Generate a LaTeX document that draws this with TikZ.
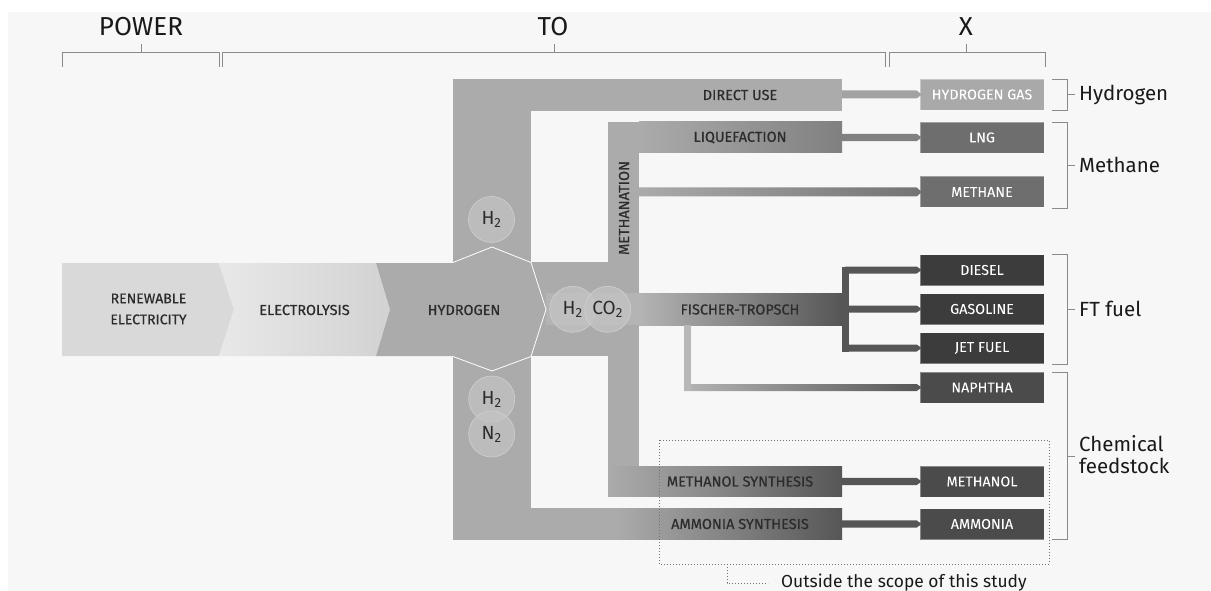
\documentclass[tikz,border=0pt]{standalone}
\usepackage{fontspec}
\setmainfont{Fira Sans}
\newfontfamily\medfont{Fira Sans}[FakeBold=0.5]
\usetikzlibrary{calc}
\definecolor{panel}{HTML}{F7F7F7}
\definecolor{hyd}{HTML}{ABABAB}
\definecolor{hydl}{HTML}{B4B4B4}
\definecolor{ren}{HTML}{D9D9D9}
\definecolor{ell}{HTML}{E8E8E8}
\definecolor{elr}{HTML}{D2D2D2}
\definecolor{midg}{HTML}{808080}
\definecolor{dkg}{HTML}{565656}
\definecolor{bxhg}{HTML}{A9A9A9}
\definecolor{bxme}{HTML}{6E6E6E}
\definecolor{bxft}{HTML}{3C3C3C}
\definecolor{bxch}{HTML}{4B4B4B}
\definecolor{txt}{HTML}{2C2C2C}
\definecolor{brk}{HTML}{8A8A8A}
\definecolor{circf}{HTML}{C4C4C4}
\definecolor{circd}{HTML}{D0D0D0}
\pgfdeclarehorizontalshading{ammsh}{100bp}{color(0bp)=(hyd); color(46bp)=(hyd); color(61bp)=(hyd!50!dkg); color(75bp)=(dkg); color(100bp)=(dkg)}
\pgfdeclarehorizontalshading{meohsh}{100bp}{color(0bp)=(hyd); color(25bp)=(hyd); color(50bp)=(hyd!55!dkg); color(75bp)=(dkg); color(100bp)=(dkg)}
\newcommand{\feed}[4]{%
  \fill[#4] ($(#1 |- #2.west)+(0,-#3)$) -- ($(#2.west)+(-3,-#3)$) -- ($(#2.west)+(2,0)$) -- ($(#2.west)+(-3,#3)$) -- ($(#1 |- #2.west)+(0,#3)$) -- cycle;}
\begin{document}
\begin{tikzpicture}[x=1pt,y=-1pt,
  proc/.style={inner sep=0pt, text=txt, font=\medfont\fontsize{14.5}{16}\selectfont},
  outbox/.style={minimum width=124pt, minimum height=31pt, inner sep=0pt, text=white,
     font=\medfont\fontsize{14.3}{16}\selectfont, draw=white, draw opacity=0.35, line width=0.6pt},
  toplabel/.style={inner sep=0pt, text=black!90, font=\fontsize{26}{30}\selectfont},
  sidelabel/.style={inner sep=0pt, anchor=west, text=black!90, font=\fontsize{20.5}{22}\selectfont, align=left},
  brace/.style={draw=brk, line width=0.9pt},
  circ/.style={circle, minimum size=46pt, inner sep=0pt, fill=circf, fill opacity=0.7, text opacity=1,
     draw=circd, line width=0.6pt, text=txt, font=\fontsize{19}{21}\selectfont},
  scope box/.style={draw=black!55, dotted, line width=1pt}]
\useasboundingbox (0,0) rectangle (1211,591);
\fill[white] (0,0) rectangle (1211,591);
\fill[panel] (8,12) rectangle (1211,591);

% ---- top brackets
\node[toplabel] (lpow) at (141,27) {POWER};
\node[toplabel] (lto) at (553,27) {TO};
\node[toplabel] (lx) at (966,27) {X};
\draw[brace] (62,67) -- (62,52) -- (219,52) -- (219,67);
\draw[brace] (141,52) -- (141,44);
\draw[brace] (222,67) -- (222,52) -- (885,52) -- (885,67);
\draw[brace] (554,52) -- (554,44);
\draw[brace] (889,67) -- (889,52) -- (1045,52) -- (1045,67);
\draw[brace] (966,52) -- (966,44);

% ---- left band
\fill[ren] (62,263) -- (219,263) -- (234,309.5) -- (219,356) -- (62,356) -- cycle;
\shade[left color=ell, right color=elr] (219,263) -- (376,263) -- (390,309.5) -- (376,356) -- (219,356) -- (234,309.5) -- cycle;

% ---- hydrogen network
\fill[hyd] (376,263) -- (453,263) -- (453,356) -- (376,356) -- (390,309.5) -- cycle;
\fill[hyd] (453,79) rectangle (531,508.5);
\fill[hyd] (453,79) rectangle (842,111);
\fill[hyd] (531,262) rectangle (608,356);
\fill[hyd] (608,122) rectangle (639,466.5);
\shade[left color=hyd, right color=midg] (639,122) rectangle (842,153);
\fill[hyd] (608,122) rectangle (640,153);
\fill[hydl] (546,293) rectangle (639,325);
\shade[left color=hydl, right color=dkg] (639,293) rectangle (842,325);
\shade[shading=meohsh] (608,466) rectangle (842,496);
\shade[shading=ammsh] (453,508) rectangle (842,539);

% hub outline
\draw[white, line width=0.8pt] (453,262.5) -- (492,247) -- (531,262.5) -- (546,309.5) -- (531,356.5) -- (492,371) -- (453,356.5);

% bar end coordinates
\coordinate (duE) at (842,95);
\coordinate (liqE) at (842,137.5);
\coordinate (methC) at (639,192);
\coordinate (ftE) at (845,309);
\coordinate (napC) at (684,387.5);
\coordinate (meohE) at (842,481.5);
\coordinate (ammE) at (842,524);

% ---- output boxes
\node[outbox, fill=bxhg] (hg) at (982,94.5) {HYDROGEN GAS};
\node[outbox, fill=bxme] (lng) at (982,137.5) {LNG};
\node[outbox, fill=bxme] (met) at (982,192) {METHANE};
\node[outbox, fill=bxft] (die) at (982,270) {DIESEL};
\node[outbox, fill=bxft] (gas) at (982,309) {GASOLINE};
\node[outbox, fill=bxft] (jet) at (982,348) {JET FUEL};
\node[outbox, fill=bxch] (nap) at (982,387.5) {NAPHTHA};
\node[outbox, fill=bxch] (meoh) at (982,481.5) {METHANOL};
\node[outbox, fill=bxch] (amm) at (982,524) {AMMONIA};

% ---- connectors
\feed{duE}{hg}{4}{hyd!95!black}
\feed{liqE}{lng}{3.6}{midg}
\shade[left color=hyd, right color=midg!90!black] ($(methC |- met.west)+(0,-4.5)$) -- ($(met.west)+(-3,-4.5)$) -- ($(met.west)+(2,0)$) -- ($(met.west)+(-3,4.5)$) -- ($(methC |- met.west)+(0,4.5)$) -- cycle;
\fill[dkg] (842,266.5) rectangle (849,351.5);
\feed{ftE}{die}{3.5}{dkg}
\feed{ftE}{gas}{3.5}{dkg}
\feed{ftE}{jet}{3.5}{dkg}
\fill[hydl!95!white] (684,325) rectangle (691,391);
\shade[left color=hydl, middle color=hydl!80!dkg, right color=dkg] ($(napC |- nap.west)+(0,-3.5)$) -- ($(nap.west)+(-3,-3.5)$) -- ($(nap.west)+(2,0)$) -- ($(nap.west)+(-3,3.5)$) -- ($(napC |- nap.west)+(0,3.5)$) -- cycle;
\fill[hydl!95!white] (684,384) rectangle (691,391);
\feed{meohE}{meoh}{3.6}{dkg}
\feed{ammE}{amm}{3.6}{dkg}

% ---- circles
\node[circ] (h2top) at (491.5,219.5) {H\textsubscript{2}};
\node[circ] (h2b) at (491.7,399) {H\textsubscript{2}};
\node[circ] (n2b) at (491.7,434) {N\textsubscript{2}};
\node[circ] (h2m) at (572.7,309.3) {H\textsubscript{2}};
\node[circ] (co2m) at (607.7,309.3) {CO\textsubscript{2}};

% ---- process labels
\node[proc, align=center, font=\medfont\fontsize{14}{21}\selectfont] (lren) at (148.5,309) {RENEWABLE\\ELECTRICITY};
\node[proc] (lel) at (304.5,310) {ELECTROLYSIS};
\node[proc] (lhy) at (464,310) {HYDROGEN};
\node[proc] (ldu) at (740,95) {DIRECT USE};
\node[proc] (lliq) at (740,137.5) {LIQUEFACTION};
\node[proc, rotate=90, font=\medfont\fontsize{14.5}{16}\selectfont] (lmeth) at (624,208) {METHANATION};
\node[proc] (lft) at (740,309.5) {FISCHER-TROPSCH};
\node[proc] (lmeoh) at (740,481.5) {METHANOL SYNTHESIS};
\node[proc] (lamm) at (740,524) {AMMONIA SYNTHESIS};

% ---- right brackets
\draw[brace] (1052,79) -- (1067,79) -- (1067,110) -- (1052,110);
\draw[brace] (1067,94.5) -- (1075,94.5);
\node[sidelabel] (shy) at (1079,94.5) {Hydrogen};
\draw[brace] (1052,122.5) -- (1067,122.5) -- (1067,208) -- (1052,208);
\draw[brace] (1067,165) -- (1075,165);
\node[sidelabel] (sme) at (1079,165) {Methane};
\draw[brace] (1052,254) -- (1067,254) -- (1067,364) -- (1052,364);
\draw[brace] (1067,309) -- (1075,309);
\node[sidelabel] (sft) at (1079,309) {FT fuel};
\draw[brace] (1052,372) -- (1067,372) -- (1067,539.5) -- (1052,539.5);
\draw[brace] (1067,456) -- (1075,456);
\node[sidelabel] (sch) at (1079,455) {Chemical\\feedstock};

% ---- scope box
\draw[scope box] (659,440) rectangle (1049,564);
\coordinate (scl) at (727,564);
\coordinate (sce) at (768,583);
\draw[scope box] (scl) |- (sce);
\node[inner sep=0pt, anchor=west, text=black!90, font=\fontsize{17.4}{20}\selectfont] (scopetxt) at (781,583) {Outside the scope of this study};
\end{tikzpicture}
\end{document}
